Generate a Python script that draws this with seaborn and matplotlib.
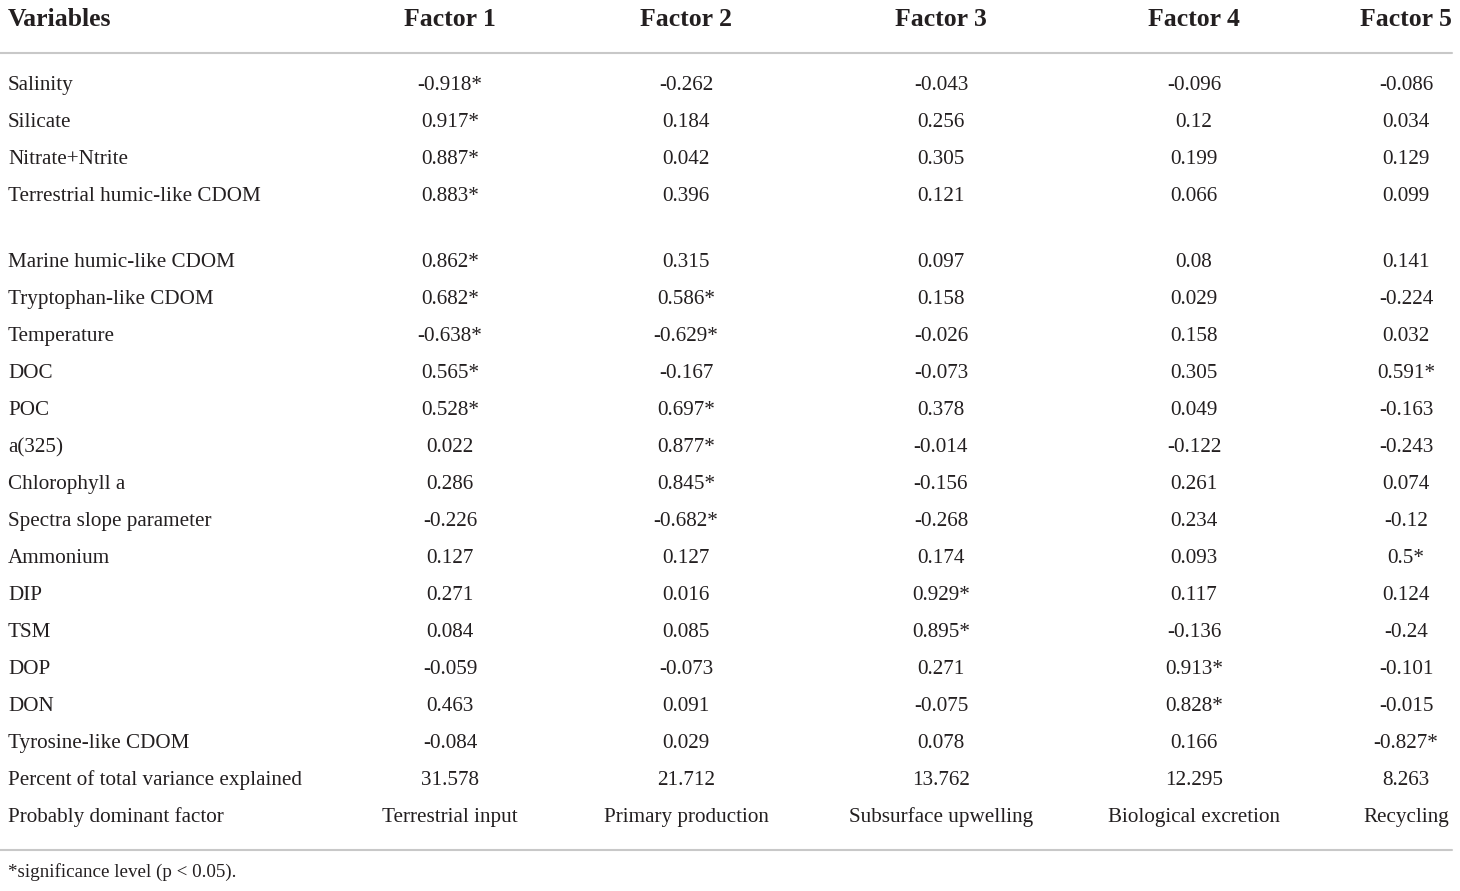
import numpy as np
import pandas as pd
import seaborn as sns
from matplotlib import pyplot as plt

variables = ["Salinity", "Silicate", "Nitrate+Ntrite", "Terrestrial humic-like CDOM",
             "Marine humic-like CDOM", "Tryptophan-like CDOM", "Temperature", "DOC", "POC",
             "a(325)", "Chlorophyll a", "Spectra slope parameter", "Ammonium", "DIP", "TSM",
             "DOP", "DON", "Tyrosine-like CDOM"]
factors = ["Factor 1", "Factor 2", "Factor 3", "Factor 4", "Factor 5"]

f1 = [-0.918, 0.917, 0.887, 0.883, 0.862, 0.682, -0.638, 0.565, 0.528, 0.022, 0.286, -0.226, 0.127, 0.271, 0.084, -0.059, 0.463, -0.084]
f2 = [-0.262, 0.184, 0.042, 0.396, 0.315, 0.586, -0.629, -0.167, 0.697, 0.877, 0.845, -0.682, 0.127, 0.016, 0.085, -0.073, 0.091, 0.029]
f3 = [-0.043, 0.256, 0.305, 0.121, 0.097, 0.158, -0.026, -0.073, 0.378, -0.014, -0.156, -0.268, 0.174, 0.929, 0.895, 0.271, -0.075, 0.078]
f4 = [-0.096, 0.12, 0.199, 0.066, 0.08, 0.029, 0.158, 0.305, 0.049, -0.122, 0.261, 0.234, 0.093, 0.117, -0.136, 0.913, 0.828, 0.166]
f5 = [-0.086, 0.034, 0.129, 0.099, 0.141, -0.224, 0.032, 0.591, -0.163, -0.243, 0.074, -0.12, 0.5, 0.124, -0.24, -0.101, -0.015, -0.827]

# significant loadings (marked with *)
sig1 = [1, 1, 1, 1, 1, 1, 1, 1, 1, 0, 0, 0, 0, 0, 0, 0, 0, 0]
sig2 = [0, 0, 0, 0, 0, 1, 1, 0, 1, 1, 1, 1, 0, 0, 0, 0, 0, 0]
sig3 = [0, 0, 0, 0, 0, 0, 0, 0, 0, 0, 0, 0, 0, 1, 1, 0, 0, 0]
sig4 = [0, 0, 0, 0, 0, 0, 0, 0, 0, 0, 0, 0, 0, 0, 0, 1, 1, 0]
sig5 = [0, 0, 0, 0, 0, 0, 0, 1, 0, 0, 0, 0, 1, 0, 0, 0, 0, 1]

variance = [31.578, 21.712, 13.762, 12.295, 8.263]
dominant = ["Terrestrial input", "Primary production", "Subsurface upwelling",
            "Biological excretion", "Recycling"]

loads = pd.DataFrame({"Factor 1": f1, "Factor 2": f2, "Factor 3": f3,
                      "Factor 4": f4, "Factor 5": f5}, index=variables)
sigs = pd.DataFrame({"Factor 1": sig1, "Factor 2": sig2, "Factor 3": sig3,
                     "Factor 4": sig4, "Factor 5": sig5}, index=variables)

sns.set_theme(style="white")
plt.rcParams['font.family'] = ['Liberation Serif', 'DejaVu Serif']

fig = plt.figure(figsize=(14.6, 8.91), dpi=100)
ax = fig.add_axes([0, 0, 1, 1])
ax.set_xlim(0, 1460)
ax.set_ylim(891, 0)
ax.axis("off")

fs = 15.2
txt = "#231f20"
col_x = [450, 686, 941, 1194, 1406]
left = 8
row_h = 37
base = 6  # baseline offset below row centre

# header
ax.text(left, 18 + 8, "Variables", fontsize=18.5, fontweight="bold", ha="left", va="baseline", color=txt)
for x, f in zip(col_x, factors):
    ax.text(x, 18 + 8, f, fontsize=18.5, fontweight="bold", ha="center", va="baseline", color=txt)
ax.plot([0, 1452], [53, 53], color="#c8c8c8", lw=1.5)

# body rows (blank line after the 4th variable)
ys = []
y = 84
for i, v in enumerate(variables):
    ys.append(y)
    y += row_h if i != 3 else 66
for yy, v in zip(ys, variables):
    ax.text(left, yy + base, v, fontsize=fs, ha="left", va="baseline", color=txt)
    for x, f in zip(col_x, factors):
        s = f"{loads.loc[v, f]}" + ("*" if sigs.loc[v, f] else "")
        ax.text(x, yy + base, s, fontsize=fs, ha="center", va="baseline", color=txt)

y_var = ys[-1] + row_h
y_dom = y_var + row_h
ax.text(left, y_var + base, "Percent of total variance explained", fontsize=fs, ha="left", va="baseline", color=txt)
ax.text(left, y_dom + base, "Probably dominant factor", fontsize=fs, ha="left", va="baseline", color=txt)
for x, val, d in zip(col_x, variance, dominant):
    ax.text(x, y_var + base, f"{val}", fontsize=fs, ha="center", va="baseline", color=txt)
    ax.text(x, y_dom + base, d, fontsize=fs, ha="center", va="baseline", color=txt)

ax.plot([0, 1452], [850, 850], color="#c8c8c8", lw=1.5)
ax.text(left, 872 + 5, "*significance level (p < 0.05).", fontsize=13.7, ha="left", va="baseline", color=txt)

fig.savefig("out.png", dpi=100)
